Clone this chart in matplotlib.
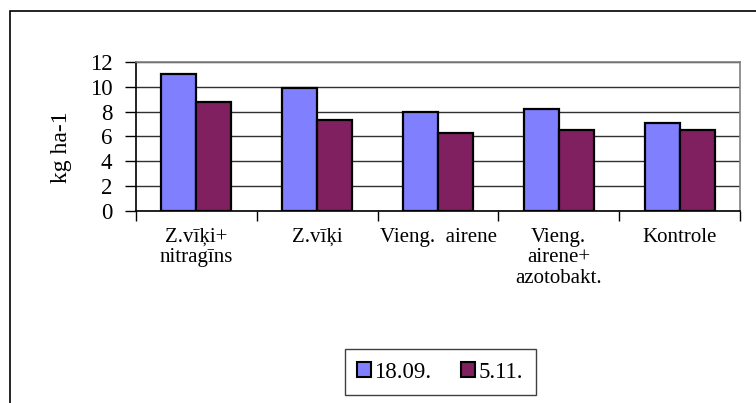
import matplotlib
matplotlib.use("Agg")
import matplotlib.pyplot as plt
from matplotlib.patches import Rectangle, Patch
import numpy as np

categories = ["Z.vīķi+\nnitragīns", "Z.vīķi", "Vieng.  airene",
              "Vieng.\nairene+\nazotobakt.", "Kontrole"]
series_names = ["18.09.", "5.11."]
v_1809 = [11.0, 9.9, 8.0, 8.2, 7.1]
v_0511 = [8.8, 7.3, 6.3, 6.5, 6.5]
colors = ["#8080ff", "#802060"]

plt.rcParams['font.family'] = ['Liberation Serif', 'DejaVu Serif']

fig = plt.figure(figsize=(7.56, 4.03), dpi=100)
W, H = 756, 403

# outer chart frame (runs off the right/bottom edge)
fig.patches.append(Rectangle((10 / W, -0.1), 1.2, 1 - 11 / H + 0.1,
                             transform=fig.transFigure, fill=False,
                             edgecolor="black", lw=1.2))

ax = fig.add_axes([136 / W, 1 - 211 / H, 604 / W, 149 / H])

x = np.arange(len(categories))
bw = 0.29
ax.bar(x - bw / 2, v_1809, bw, color=colors[0], edgecolor="black", lw=1.6, zorder=3)
ax.bar(x + bw / 2, v_0511, bw, color=colors[1], edgecolor="black", lw=1.6, zorder=3)

ax.set_xlim(-0.5, len(categories) - 0.5)
ax.set_ylim(0, 12)
ax.set_yticks(range(0, 13, 2))
ax.yaxis.grid(True, color="#303030", lw=1.0, zorder=0)
ax.tick_params(axis="y", labelsize=16.5, length=8, direction="out", width=1, pad=9)

ax.set_xticks(np.arange(-0.5, len(categories), 1))
ax.set_xticklabels([])
ax.set_xticks(x, minor=True)
ax.set_xticklabels(categories, minor=True, fontsize=15, linespacing=1.12)
ax.tick_params(axis="x", which="major", length=7, width=1)
ax.tick_params(axis="x", which="minor", length=0, pad=12)

ax.spines["left"].set_color("black")
ax.spines["bottom"].set_color("black")
ax.spines["top"].set_color("#808080")
ax.spines["right"].set_color("#808080")
for s in ax.spines.values():
    s.set_linewidth(1.2)

fig.text(62 / W, 1 - 147 / H, "kg ha-1", rotation=90, ha="center", va="center",
         fontsize=17)

handles = [Patch(facecolor=c, edgecolor="black", lw=1.5) for c in colors]
fig.legend(handles, series_names, loc="center", bbox_to_anchor=(440 / W, 1 - 372 / H),
           ncol=2, fontsize=16.5, frameon=True, fancybox=False, edgecolor="#404040",
           handlelength=0.6, handleheight=0.6, handletextpad=0.15, columnspacing=1.3,
           borderpad=0.55, borderaxespad=0, framealpha=1)

fig.savefig("out.png", dpi=100)
